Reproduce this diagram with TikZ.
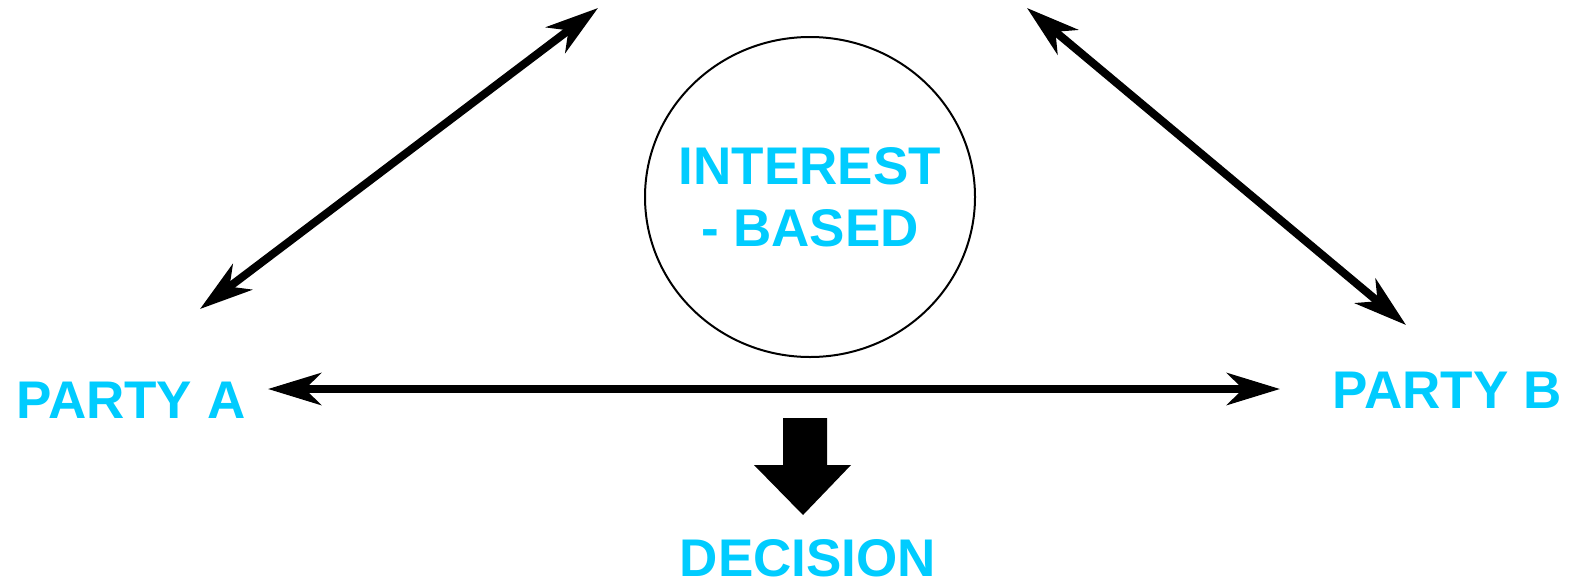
\documentclass[tikz,border=0pt]{standalone}
\usepackage{fontspec}
\setmainfont{Liberation Sans}
\usetikzlibrary{arrows.meta,shapes.geometric}
\definecolor{cyantext}{HTML}{00CCFF}
\tikzset{
  lbl/.style={text=cyantext, font=\fontsize{53}{62}\selectfont\bfseries, inner sep=0pt},
  dbl/.style={line width=8pt, {Stealth[length=53pt,width=32pt,inset=16pt]}-{Stealth[length=53pt,width=32pt,inset=16pt]}},
  circ/.style={ellipse, draw, line width=2pt, minimum width=330pt, minimum height=320pt, inner sep=0pt},
  blockarrow/.style={fill=black}
}
\begin{document}
\begin{tikzpicture}[x=1pt,y=-1pt]
\useasboundingbox (0,0) rectangle (1581,584);
\node[circ] (interest) at (810,197) {};
\node[lbl, align=center] (interestlbl) at (interest.center) {INTEREST\\- BASED};
\node[lbl, anchor=base] (partyA) at (131,418) {PARTY A};
\node[lbl, anchor=base] (partyB) at (1447,408) {PARTY B};
\node[lbl, anchor=base] (decision) at (808,576) {DECISION};
\coordinate (la) at (200,309);
\coordinate (lb) at (598,8);
\coordinate (ra) at (1027,8);
\coordinate (rb) at (1406,325);
\coordinate (ha) at (268,389);
\coordinate (hb) at (1280,389);
\draw[dbl] (la) -- (lb);
\draw[dbl] (ra) -- (rb);
\draw[dbl] (ha) -- (hb);
\fill[blockarrow] (783,418) -- (827,418) -- (827,465) -- (851,465) -- (803,515) -- (754,465) -- (783,465) -- cycle;
\end{tikzpicture}
\end{document}
